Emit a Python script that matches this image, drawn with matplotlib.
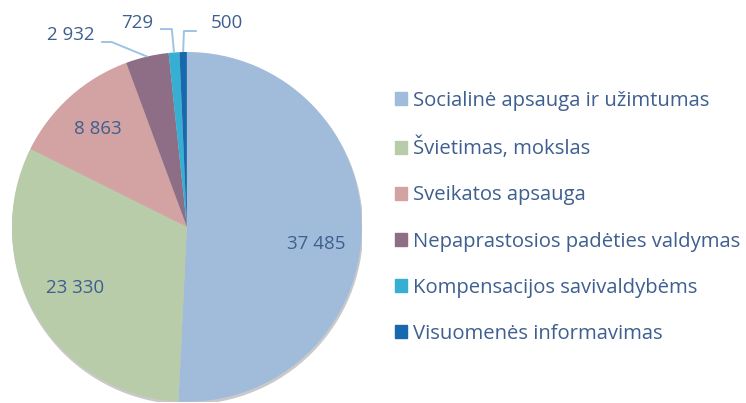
import numpy as np
import matplotlib.pyplot as plt
from matplotlib.patches import Circle

# Data
categories = ['Socialinė apsauga ir užimtumas', 'Švietimas, mokslas', 'Sveikatos apsauga',
              'Nepaprastosios padėties valdymas', 'Kompensacijos savivaldybėms',
              'Visuomenės informavimas']
values = [37485, 23330, 8863, 2932, 729, 500]
labels = ['37 485', '23 330', '8 863', '2 932', '729', '500']

colors = ['#a1bcdb', '#b8cca9', '#d3a2a2', '#8d6e86', '#37afd3', '#1868ad']
text_color = '#3e5f8f'
line_color = '#9dc3e6'

plt.rcParams['font.family'] = ['Open Sans', 'DejaVu Sans']

fig = plt.figure(figsize=(7.46, 4.03), dpi=100)
ax = fig.add_axes([0.016, 0.003, 0.469, 0.868])

# soft shadow under the pie
ax.add_patch(Circle((0.004, -0.012), 1.0, color='#c9c9c9', zorder=0))
wedges, _ = ax.pie(values, colors=colors, startangle=90, counterclock=False,
                   radius=1.0, wedgeprops=dict(linewidth=0))

# inside labels: (radius fraction, angle shift from wedge middle in degrees)
inside = {0: (0.745, -6), 1: (0.73, -1.7), 2: (0.756, 0.6)}
for i, (r, shift) in inside.items():
    w = wedges[i]
    a = np.deg2rad((w.theta1 + w.theta2) / 2 + shift)
    ax.text(r * np.cos(a), r * np.sin(a), labels[i], ha='center', va='center',
            fontsize=13.5, color=text_color)

# outside labels with leader lines: (elbow, line end x, text pos, align)
outside = {3: ((-0.43, 1.057), -0.49, (-0.526, 1.097), 'right'),
           4: ((-0.086, 1.131), -0.154, (-0.194, 1.166), 'right'),
           5: ((-0.017, 1.12), 0.057, (0.137, 1.166), 'left')}
for i, (elbow, xend, tpos, ha) in outside.items():
    w = wedges[i]
    mid = np.deg2rad((w.theta1 + w.theta2) / 2)
    ax.plot([np.cos(mid), elbow[0], xend], [np.sin(mid), elbow[1], elbow[1]],
            color=line_color, lw=1.4, solid_capstyle='butt', clip_on=False)
    ax.text(tpos[0], tpos[1], labels[i], ha=ha, va='center',
            fontsize=13.5, color=text_color, clip_on=False)

ax.set_xlim(-1.0, 1.0)
ax.set_ylim(-1.0, 1.0)
ax.set_aspect('equal')
ax.axis('off')

# Legend
handles = [plt.Rectangle((0, 0), 1, 1, color=c) for c in colors]
fig.legend(handles, categories, loc='center left', bbox_to_anchor=(0.516, 0.461),
           frameon=False, fontsize=14.6, labelcolor=text_color, borderpad=0,
           handlelength=0.6, handleheight=0.6, handletextpad=0.28, labelspacing=1.29)

fig.savefig('out.png', dpi=100)
